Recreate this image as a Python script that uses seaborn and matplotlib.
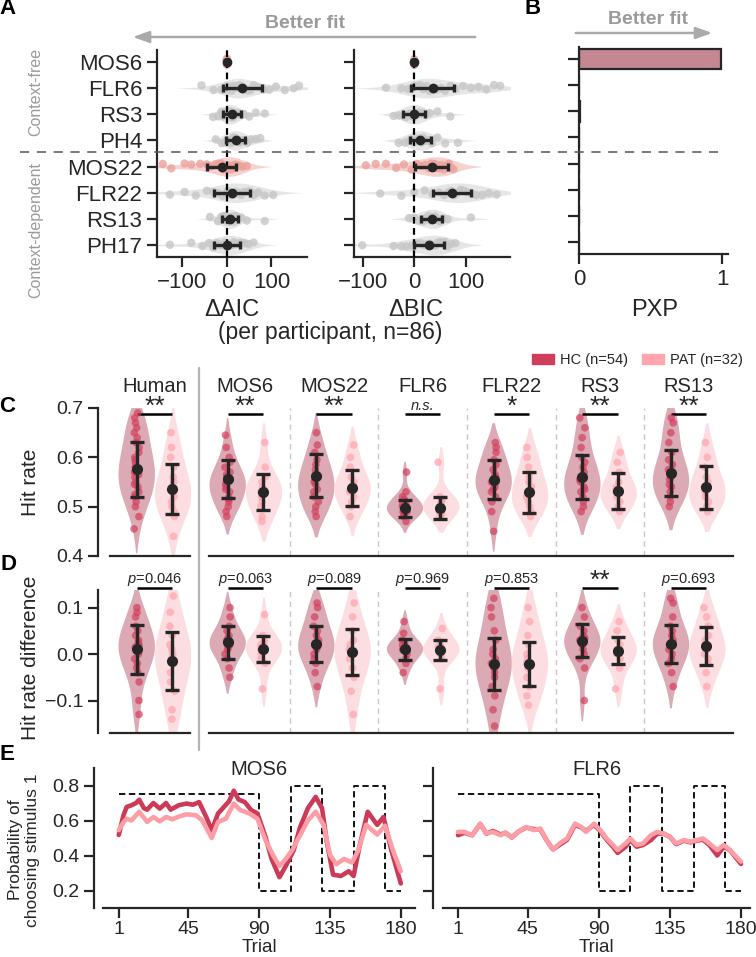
import numpy as np
import pandas as pd
import matplotlib
matplotlib.use("Agg")
import matplotlib.pyplot as plt
from matplotlib.lines import Line2D
from matplotlib.patches import Patch, FancyArrowPatch
import seaborn as sns

# ---------------------------------------------------------------- data
models = ["MOS6", "FLR6", "RS3", "PH4", "MOS22", "FLR22", "RS13", "PH17"]

aic_values = {
    "MOS6": [0, 0, 0, 0, 0, 0],
    "FLR6": [-57, -30, -12, -5, 0, 5, 10, 14, 18, 22, 25, 28, 31, 34, 38, 42, 47, 53, 60, 70, 82, 95, 110, 130, 150, 162],
    "RS3": [-31, -20, -12, -8, -5, -2, 0, 2, 4, 6, 8, 10, 12, 14, 16, 18, 21, 25, 30, 38, 50, 65, 85],
    "PH4": [-25, -12, -5, 0, 4, 8, 11, 14, 17, 20, 22, 25, 28, 31, 35, 40, 46, 55, 65, 75],
    "MOS22": [-144, -125, -95, -80, -60, -45, -35, -25, -18, -12, -8, -4, 0, 3, 6, 9, 12, 15, 18, 22, 28, 35, 45],
    "FLR22": [-128, -95, -70, -45, -30, -20, -10, -4, 2, 8, 14, 20, 26, 32, 38, 45, 52, 60, 70, 85, 104],
    "RS13": [-38, -20, -12, -7, -3, 0, 2, 4, 6, 8, 10, 13, 16, 20, 25, 32, 45, 85],
    "PH17": [-128, -80, -55, -40, -30, -22, -15, -10, -5, 0, 4, 8, 12, 16, 20, 25, 30, 38, 48, 60],
}
bic_values = {
    "MOS6": [0, 0, 0, 0, 0, 0],
    "FLR6": [-55, -25, -12, -5, 0, 6, 12, 18, 24, 30, 35, 40, 45, 52, 60, 70, 80, 95, 110, 125, 140, 155, 167],
    "RS3": [-40, -30, -22, -16, -12, -8, -5, -2, 0, 2, 5, 8, 12, 16, 22, 30, 45, 70],
    "PH4": [-30, -18, -10, -5, 0, 4, 8, 11, 14, 17, 20, 24, 28, 34, 45, 60, 85],
    "MOS22": [-94, -75, -55, -35, -20, -5, 5, 15, 22, 28, 33, 37, 41, 45, 49, 53, 57, 62, 67, 72, 76],
    "FLR22": [-66, -25, 0, 20, 35, 48, 58, 66, 72, 78, 84, 90, 96, 102, 110, 120, 132, 145, 160],
    "RS13": [-10, 0, 10, 18, 24, 28, 32, 35, 38, 41, 45, 50, 56, 65, 110],
    "PH17": [-101, -40, -25, -15, -5, 5, 12, 18, 24, 30, 35, 40, 45, 50, 55, 60, 65, 72, 80],
}
aic_mean = [0, 35, 12, 20, -12, 12, 7, 1]
aic_sd = [0, 44, 20, 21, 33, 40, 19, 29]
bic_mean = [0, 36, 0, 12, 34, 74, 34, 29]
bic_sd = [0, 42, 21, 21, 32, 37, 20, 29]
pxp = [0.99, 0.0, 0.01, 0.0, 0.0, 0.0, 0.0, 0.0]

groups = ["Human", "MOS6", "MOS22", "FLR6", "FLR22", "RS3", "RS13"]
hit_HC = {
    "Human": [0.455, 0.48, 0.50, 0.51, 0.52, 0.525, 0.53, 0.54, 0.545, 0.55, 0.56, 0.565, 0.57, 0.58, 0.58, 0.59, 0.595, 0.60, 0.61, 0.62, 0.63, 0.64, 0.65, 0.66, 0.67, 0.68, 0.69],
    "MOS6": [0.48, 0.49, 0.50, 0.51, 0.515, 0.52, 0.53, 0.535, 0.54, 0.545, 0.55, 0.555, 0.56, 0.565, 0.57, 0.58, 0.59, 0.60, 0.62, 0.645],
    "MOS22": [0.48, 0.49, 0.50, 0.51, 0.52, 0.53, 0.535, 0.545, 0.55, 0.555, 0.565, 0.575, 0.585, 0.595, 0.61, 0.625, 0.65],
    "FLR6": [0.47, 0.48, 0.485, 0.49, 0.49, 0.495, 0.50, 0.50, 0.505, 0.51, 0.515, 0.52, 0.53, 0.57],
    "FLR22": [0.45, 0.49, 0.51, 0.52, 0.53, 0.535, 0.54, 0.55, 0.555, 0.56, 0.565, 0.575, 0.585, 0.595, 0.61, 0.62, 0.63],
    "RS3": [0.49, 0.50, 0.51, 0.52, 0.53, 0.535, 0.54, 0.55, 0.555, 0.56, 0.57, 0.58, 0.59, 0.60, 0.62, 0.64, 0.66, 0.68],
    "RS13": [0.50, 0.51, 0.52, 0.53, 0.54, 0.545, 0.555, 0.56, 0.565, 0.575, 0.585, 0.595, 0.61, 0.63, 0.65, 0.67, 0.68],
}
hit_PAT = {
    "Human": [0.44, 0.48, 0.49, 0.50, 0.51, 0.52, 0.53, 0.54, 0.55, 0.56, 0.58, 0.60, 0.62, 0.65],
    "MOS6": [0.47, 0.48, 0.50, 0.51, 0.52, 0.53, 0.535, 0.54, 0.55, 0.56, 0.58, 0.63],
    "MOS22": [0.48, 0.50, 0.51, 0.52, 0.53, 0.54, 0.545, 0.55, 0.56, 0.58, 0.60, 0.625],
    "FLR6": [0.48, 0.485, 0.49, 0.50, 0.505, 0.51, 0.515, 0.52, 0.59],
    "FLR22": [0.48, 0.49, 0.50, 0.51, 0.52, 0.53, 0.54, 0.55, 0.56, 0.58, 0.60, 0.62],
    "RS3": [0.49, 0.50, 0.51, 0.52, 0.53, 0.535, 0.54, 0.55, 0.57, 0.59, 0.61],
    "RS13": [0.49, 0.50, 0.51, 0.52, 0.53, 0.54, 0.55, 0.56, 0.58, 0.60, 0.63],
}
diff_HC = {
    "Human": [-0.13, -0.10, -0.06, -0.04, -0.03, -0.02, -0.01, 0.0, 0.01, 0.015, 0.02, 0.025, 0.03, 0.04, 0.05, 0.06, 0.08, 0.09, 0.10],
    "MOS6": [-0.05, -0.03, -0.01, 0.0, 0.01, 0.015, 0.02, 0.025, 0.03, 0.035, 0.04, 0.05, 0.06, 0.08, 0.10],
    "MOS22": [-0.07, -0.04, -0.02, -0.01, 0.0, 0.01, 0.015, 0.02, 0.03, 0.04, 0.05, 0.06, 0.08, 0.10, 0.11],
    "FLR6": [-0.04, -0.02, -0.01, 0.0, 0.005, 0.01, 0.01, 0.015, 0.02, 0.025, 0.03, 0.045, 0.07],
    "FLR22": [-0.155, -0.12, -0.09, -0.07, -0.05, -0.04, -0.03, -0.02, -0.01, 0.0, 0.01, 0.03, 0.05, 0.08, 0.10, 0.12],
    "RS3": [-0.10, -0.03, -0.01, 0.0, 0.01, 0.02, 0.025, 0.03, 0.035, 0.04, 0.05, 0.06, 0.08, 0.10],
    "RS13": [-0.07, -0.04, -0.02, -0.01, 0.0, 0.01, 0.02, 0.025, 0.03, 0.04, 0.05, 0.06, 0.08, 0.11, 0.12],
}
diff_PAT = {
    "Human": [-0.14, -0.12, -0.08, -0.06, -0.04, -0.02, -0.01, 0.0, 0.01, 0.02, 0.04, 0.06, 0.09, 0.125],
    "MOS6": [-0.075, -0.02, -0.01, 0.0, 0.01, 0.015, 0.02, 0.025, 0.03, 0.04, 0.085],
    "MOS22": [-0.13, -0.08, -0.05, -0.03, -0.01, 0.0, 0.01, 0.02, 0.03, 0.05, 0.08, 0.11],
    "FLR6": [-0.075, -0.01, 0.0, 0.005, 0.01, 0.015, 0.02, 0.03, 0.055],
    "FLR22": [-0.11, -0.09, -0.07, -0.05, -0.03, -0.02, -0.01, 0.0, 0.02, 0.04, 0.07, 0.10],
    "RS3": [-0.075, -0.03, -0.01, 0.0, 0.005, 0.01, 0.02, 0.03, 0.05, 0.07],
    "RS13": [-0.07, -0.04, -0.02, -0.01, 0.0, 0.01, 0.02, 0.03, 0.04, 0.06, 0.08, 0.10],
}
hit_HC_mean = [0.576, 0.556, 0.563, 0.497, 0.555, 0.560, 0.568]
hit_HC_sd = [0.056, 0.038, 0.043, 0.0175, 0.039, 0.044, 0.046]
hit_PAT_mean = [0.536, 0.530, 0.538, 0.498, 0.529, 0.532, 0.539]
hit_PAT_sd = [0.050, 0.037, 0.036, 0.022, 0.042, 0.037, 0.043]
diff_HC_mean = [0.010, 0.025, 0.022, 0.010, -0.022, 0.029, 0.021]
diff_HC_sd = [0.052, 0.035, 0.038, 0.023, 0.056, 0.035, 0.041]
diff_PAT_mean = [-0.015, 0.012, 0.004, 0.009, -0.022, 0.007, 0.018]
diff_PAT_sd = [0.063, 0.028, 0.049, 0.021, 0.047, 0.029, 0.041]
sig_hit = ["**", "**", "**", "n.s.", "*", "**", "**"]
sig_diff = ["0.046", "0.063", "0.089", "0.969", "0.853", "**", "0.693"]

sched_trial = [1, 90, 110, 130, 150, 170, 180]
sched_prob = [0.75, 0.2, 0.8, 0.2, 0.8, 0.2, 0.2]

mos6_hc_trial = [1, 4, 6, 9, 12, 14, 17, 19, 23, 27, 31, 34, 39, 44, 48, 52, 57, 60, 64, 68, 71, 74, 77, 81, 85, 89,
                 94, 98, 103, 107, 112, 116, 121, 126, 130, 133, 137, 142, 147, 150, 154, 159, 165, 169, 174, 180]
mos6_hc_prob = [0.517, 0.63, 0.677, 0.687, 0.70, 0.719, 0.67, 0.662, 0.70, 0.668, 0.70, 0.662, 0.687, 0.697, 0.69, 0.705,
                0.61, 0.544, 0.64, 0.68, 0.71, 0.77, 0.72, 0.705, 0.66, 0.64, 0.51, 0.38, 0.276, 0.34, 0.43, 0.56, 0.67,
                0.735, 0.67, 0.48, 0.29, 0.283, 0.31, 0.283, 0.46, 0.65, 0.575, 0.62, 0.43, 0.24]
mos6_pat_trial = [1, 4, 6, 9, 14, 19, 23, 27, 31, 35, 40, 44, 50, 54, 60, 64, 69, 74, 78, 84, 89, 94, 99, 103, 107,
                  111, 116, 121, 126, 131, 135, 139, 144, 149, 153, 158, 165, 170, 175, 180]
mos6_pat_prob = [0.545, 0.59, 0.61, 0.60, 0.65, 0.592, 0.62, 0.595, 0.62, 0.607, 0.625, 0.635, 0.63, 0.60, 0.50, 0.592,
                 0.61, 0.697, 0.66, 0.64, 0.61, 0.49, 0.40, 0.34, 0.38, 0.43, 0.515, 0.60, 0.65, 0.575, 0.405, 0.35,
                 0.38, 0.36, 0.43, 0.575, 0.52, 0.57, 0.43, 0.31]
flr6_trial = [1, 5, 10, 15, 19, 23, 28, 31, 35, 39, 44, 49, 53, 57, 61, 66, 70, 75, 79, 82, 87, 91, 95, 99, 102, 107,
              110, 114, 118, 123, 127, 131, 135, 139, 144, 148, 152, 156, 160, 165, 169, 173, 177, 180]
flr6_hc_prob = [0.516, 0.53, 0.516, 0.58, 0.525, 0.54, 0.52, 0.53, 0.503, 0.535, 0.56, 0.55, 0.55, 0.488, 0.435, 0.465,
                0.49, 0.575, 0.56, 0.54, 0.575, 0.54, 0.49, 0.45, 0.415, 0.45, 0.49, 0.45, 0.46, 0.488, 0.525, 0.525,
                0.507, 0.465, 0.485, 0.475, 0.485, 0.49, 0.46, 0.40, 0.45, 0.43, 0.385, 0.352]
flr6_pat_prob = [0.535, 0.535, 0.516, 0.582, 0.525, 0.535, 0.516, 0.53, 0.503, 0.535, 0.563, 0.545, 0.554, 0.488, 0.435,
                 0.473, 0.497, 0.582, 0.563, 0.535, 0.582, 0.545, 0.497, 0.46, 0.431, 0.469, 0.497, 0.46, 0.469, 0.516,
                 0.535, 0.525, 0.507, 0.469, 0.488, 0.478, 0.488, 0.497, 0.469, 0.431, 0.46, 0.431, 0.393, 0.365]

# ---------------------------------------------------------------- style
HC_LINE, PAT_LINE = "#cc3a58", "#fd9ea6"
HC_PT, PAT_PT = "#d33f5c", "#ffa3ab"
HC_VIOL, PAT_VIOL = "#dcaab5", "#fcdde1"
DARK = "#262626"
GRAYTXT = "#9a9a9a"

sns.set_theme(style="ticks")
plt.rcParams.update({
    "font.family": ["Liberation Sans", "DejaVu Sans"],
    "font.size": 14,
    "axes.edgecolor": DARK, "axes.linewidth": 1.6,
    "xtick.color": DARK, "ytick.color": DARK,
    "xtick.major.width": 1.6, "ytick.major.width": 1.6,
    "xtick.major.size": 6, "ytick.major.size": 6,
    "xtick.labelsize": 14, "ytick.labelsize": 14,
    "text.color": DARK,
    "mathtext.fontset": "custom",
    "mathtext.it": "Liberation Sans:italic",
    "mathtext.rm": "Liberation Sans",
})

W, H = 756, 957
fig = plt.figure(figsize=(W / 100, H / 100), dpi=100)


def add_ax(l, t, r, b):
    return fig.add_axes([l / W, 1 - b / H, (r - l) / W, (b - t) / H])


def ftext(x, y, s, **kw):
    fig.text(x / W, 1 - y / H, s, **kw)


# ---------------------------------------------------------------- panel A
def panel_A(ax, values, mean, sd, xlim, labels):
    vdf = pd.DataFrame([(m, v) for m in models if m != "MOS6" for v in values[m]], columns=["model", "value"])
    sdf = pd.DataFrame([(m, v) for m in models for v in values[m]], columns=["model", "value"])
    vpal = {m: ("#f6d2ce" if m.startswith("MOS") else "#e6e6e6") for m in models}
    spal = {m: ("#eba29c" if m.startswith("MOS") else "#c6c6c6") for m in models}
    sns.violinplot(data=vdf, x="value", y="model", order=models, hue="model", palette=vpal, legend=False,
                   inner=None, linewidth=0, density_norm="width", width=0.75, cut=2, saturation=1, ax=ax)
    sns.stripplot(data=sdf, x="value", y="model", order=models, hue="model", palette=spal, legend=False,
                  jitter=0.12, size=6, alpha=0.8, linewidth=0, ax=ax)
    ax.axvline(0, color="black", ls=(0, (3, 2)), lw=1.6, zorder=4)
    ax.errorbar(mean, np.arange(len(models)), xerr=sd, fmt="o", color=DARK, ms=6, lw=2.4,
                capsize=3, capthick=2.4, zorder=6)
    ax.set_ylim(7.46, -0.46)
    ax.set_xlim(*xlim)
    ax.set_xticks([-100, 0, 100])
    ax.set_xlabel("")
    ax.set_ylabel("")
    sns.despine(ax=ax)
    ax.tick_params(axis="y", length=7, labelsize=16)
    ax.tick_params(axis="x", length=7, labelsize=16)
    if not labels:
        ax.set_yticklabels([])


axA1 = add_ax(157, 50, 307, 257)
panel_A(axA1, aic_values, aic_mean, aic_sd, (-157, 180), True)
axA2 = add_ax(354, 50, 510, 257)
panel_A(axA2, bic_values, bic_mean, bic_sd, (-117, 186), False)

# ---------------------------------------------------------------- panel B
axB = add_ax(579, 47, 728, 254)
sns.barplot(x=pxp, y=models, orient="h", color="#c58893", edgecolor=DARK, linewidth=1.6, width=0.8,
            saturation=1, ax=axB)
axB.set_ylim(7.46, -0.46)
axB.set_xlim(0, 1.04)
axB.set_xticks([0, 1])
axB.set_xticklabels(["0", "1"])
axB.set_yticklabels([])
axB.tick_params(axis="y", length=8)
axB.tick_params(axis="x", length=7, labelsize=16)
sns.despine(ax=axB)


# ---------------------------------------------------------------- panels C / D
def panel_violin(ax, HC, PAT, grp, idx, hcm, hcs, patm, pats):
    rows = [(g, "HC", v) for g in grp for v in HC[g]] + [(g, "PAT", v) for g in grp for v in PAT[g]]
    df = pd.DataFrame(rows, columns=["group", "cohort", "value"])
    sns.violinplot(data=df, x="group", y="value", hue="cohort", order=grp, hue_order=["HC", "PAT"],
                   palette={"HC": HC_VIOL, "PAT": PAT_VIOL}, inner=None, linewidth=0, density_norm="width",
                   cut=1.5, width=0.82, saturation=1, legend=False, ax=ax)
    sns.stripplot(data=df, x="group", y="value", hue="cohort", order=grp, hue_order=["HC", "PAT"],
                  palette={"HC": HC_PT, "PAT": PAT_PT}, dodge=True, jitter=0.06, size=5.5, alpha=0.7,
                  linewidth=0, legend=False, ax=ax)
    x = np.arange(len(grp))
    ax.errorbar(x - 0.2, [hcm[i] for i in idx], yerr=[hcs[i] for i in idx], fmt="o", color=DARK, ms=7,
                lw=2.4, capsize=5, capthick=2.4, zorder=6)
    ax.errorbar(x + 0.2, [patm[i] for i in idx], yerr=[pats[i] for i in idx], fmt="o", color=DARK, ms=7,
                lw=2.4, capsize=5, capthick=2.4, zorder=6)
    ax.set_xlabel("")
    ax.set_ylabel("")


def annotate(ax, labels, br):
    tr = ax.get_xaxis_transform()
    for i, lab in enumerate(labels):
        ax.plot([i - 0.2, i + 0.2], [br, br], color="black", lw=1.8, transform=tr, clip_on=False,
                solid_capstyle="butt")
        if lab.startswith("*"):
            ax.annotate(lab, (i, br), xycoords=tr, xytext=(0, 0.3), textcoords="offset points",
                        ha="center", va="baseline", fontsize=19, annotation_clip=False)
        elif lab == "n.s.":
            ax.annotate(lab, (i, br), xycoords=tr, xytext=(0, 3), textcoords="offset points",
                        ha="center", va="baseline", fontsize=10.5, style="italic", annotation_clip=False)
        else:
            ax.annotate(r"$\mathit{p}$=" + lab, (i, br), xycoords=tr, xytext=(0, 3.5), textcoords="offset points",
                        ha="center", va="baseline", fontsize=10.5, annotation_clip=False)


def setup_pair(top, bottom, ylim, yticks, HC, PAT, hcm, hcs, patm, pats, labels, br):
    axh = add_ax(110, top, 190, bottom)
    panel_violin(axh, HC, PAT, groups[:1], [0], hcm, hcs, patm, pats)
    axh.set_xlim(-0.5, 0.4)
    axh.set_ylim(*ylim)
    axh.set_yticks(yticks)
    axh.tick_params(axis="x", bottom=False, labelbottom=False)
    axh.tick_params(axis="y", length=7)
    sns.despine(ax=axh)
    axh.spines["left"].set_position(("outward", 8.6))
    annotate(axh, labels[:1], br)

    axm = add_ax(209, top, 733, bottom)
    panel_violin(axm, HC, PAT, groups[1:], list(range(1, 7)), hcm, hcs, patm, pats)
    axm.set_xlim(-0.41, 5.5)
    axm.set_ylim(*ylim)
    for i in range(5):
        axm.axvline(i + 0.5, color="#c8c8c8", ls=(0, (4, 3)), lw=1, zorder=0)
    axm.tick_params(bottom=False, labelbottom=False, left=False, labelleft=False)
    sns.despine(ax=axm, left=True)
    annotate(axm, labels[1:], br)
    return axh, axm


axCh, axCm = setup_pair(408, 556, (0.4, 0.7), [0.4, 0.5, 0.6, 0.7], hit_HC, hit_PAT, hit_HC_mean, hit_HC_sd,
                        hit_PAT_mean, hit_PAT_sd, sig_hit, 0.959)
axCh.set_yticklabels(["0.4", "0.5", "0.6", "0.7"])
for ax, grp in ((axCh, groups[:1]), (axCm, groups[1:])):
    for i, g in enumerate(grp):
        ax.text(i, 1.142, g, ha="center", va="center", fontsize=14.5, transform=ax.get_xaxis_transform(),
                clip_on=False)

axDh, axDm = setup_pair(590, 733, (-0.17, 0.138), [-0.1, 0.0, 0.1], diff_HC, diff_PAT, diff_HC_mean,
                        diff_HC_sd, diff_PAT_mean, diff_PAT_sd, sig_diff, 1.014)

fig.legend(handles=[Patch(color="#cf3f5b"), Patch(color="#ffa5ad")], labels=["HC (n=54)", "PAT (n=32)"],
           loc="center left", bbox_to_anchor=(526 / W, 1 - 360 / H), ncol=2, frameon=False, fontsize=10.5,
           handlelength=1.5, handleheight=0.75, handletextpad=0.4, columnspacing=1.0, borderaxespad=0)


# ---------------------------------------------------------------- panel E
def panel_E(ax, hc_t, hc_p, pat_t, pat_p, title, xlim, offset, labels):
    sns.lineplot(x=sched_trial, y=sched_prob, drawstyle="steps-post", color="black", lw=1.3,
                 linestyle=(0, (3.5, 2)), ax=ax)
    sns.lineplot(x=hc_t, y=hc_p, color=HC_LINE, lw=3.3, solid_capstyle="round", ax=ax)
    sns.lineplot(x=pat_t, y=pat_p, color=PAT_LINE, lw=3.3, solid_capstyle="round", ax=ax)
    ax.set_xlim(*xlim)
    ax.set_ylim(0.1, 0.9)
    ax.set_xticks([1, 45, 90, 135, 180])
    ax.set_yticks([0.2, 0.4, 0.6, 0.8])
    if not labels:
        ax.set_yticklabels([])
    ax.set_xlabel("Trial", fontsize=13.5, labelpad=0.5)
    ax.set_ylabel("")
    ax.tick_params(length=7)
    ax.tick_params(axis="x", pad=2.5)
    sns.despine(ax=ax)
    ax.spines["left"].set_position(("outward", offset))
    ax.text(0.5, 0.986, title, ha="center", va="center", fontsize=14.5, transform=ax.transAxes)


axE1 = add_ax(103, 768, 415, 908)
panel_E(axE1, mos6_hc_trial, mos6_hc_prob, mos6_pat_trial, mos6_pat_prob, "MOS6", (-9, 189), 6.5, True)
axE2 = add_ax(443, 768, 750, 908)
panel_E(axE2, flr6_trial, flr6_hc_prob, flr6_trial, flr6_pat_prob, "FLR6", (-8.5, 185.7), 7.2, False)

# ---------------------------------------------------------------- figure-level decorations
fig.add_artist(Line2D([20 / W, 718 / W], [1 - 152 / H] * 2, color="#555555", lw=1.1, ls=(0, (6, 5))))
fig.add_artist(Line2D([199 / W, 199 / W], [1 - 368 / H, 1 - 750 / H], color="#b5b5b5", lw=1.6))
fig.add_artist(FancyArrowPatch((478 / W, 1 - 37 / H), (130 / W, 1 - 37 / H), transform=fig.transFigure,
                               arrowstyle="-|>,head_length=0.7,head_width=0.25", mutation_scale=14,
                               color="#aaaaaa", lw=1.8))
fig.add_artist(FancyArrowPatch((573 / W, 1 - 33 / H), (715 / W, 1 - 33 / H), transform=fig.transFigure,
                               arrowstyle="-|>,head_length=0.7,head_width=0.25", mutation_scale=14,
                               color="#aaaaaa", lw=1.8))
ftext(305, 24, "Better fit", ha="center", va="center", fontsize=14, fontweight="bold", color=GRAYTXT)
ftext(648, 20, "Better fit", ha="center", va="center", fontsize=14, fontweight="bold", color=GRAYTXT)
ftext(36, 92, "Context-free", ha="center", va="center", rotation=90, fontsize=11.5, color=GRAYTXT)
ftext(36, 230, "Context-dependent", ha="center", va="center", rotation=90, fontsize=11.5, color=GRAYTXT)
ftext(232, 310, "ΔAIC", ha="center", va="center", fontsize=17)
ftext(416, 310, "ΔBIC", ha="center", va="center", fontsize=17)
ftext(330, 333, "(per participant, n=86)", ha="center", va="center", fontsize=16.5)
ftext(655, 310, "PXP", ha="center", va="center", fontsize=17)
ftext(31, 482, "Hit rate", ha="center", va="center", rotation=90, fontsize=15)
ftext(31, 658, "Hit rate difference", ha="center", va="center", rotation=90, fontsize=15)
ftext(24, 850, "Probability of\nchoosing stimulus 1", ha="center", va="center", rotation=90, fontsize=12.5,
      linespacing=1.15)
for lab, x, y in (("A", 7, 9), ("B", 533, 9), ("C", 7, 407), ("D", 8, 565), ("E", 7, 754)):
    ftext(x, y, lab, ha="center", va="center", fontsize=16, fontweight="bold", color="black")

fig.savefig("out.png", dpi=100)
